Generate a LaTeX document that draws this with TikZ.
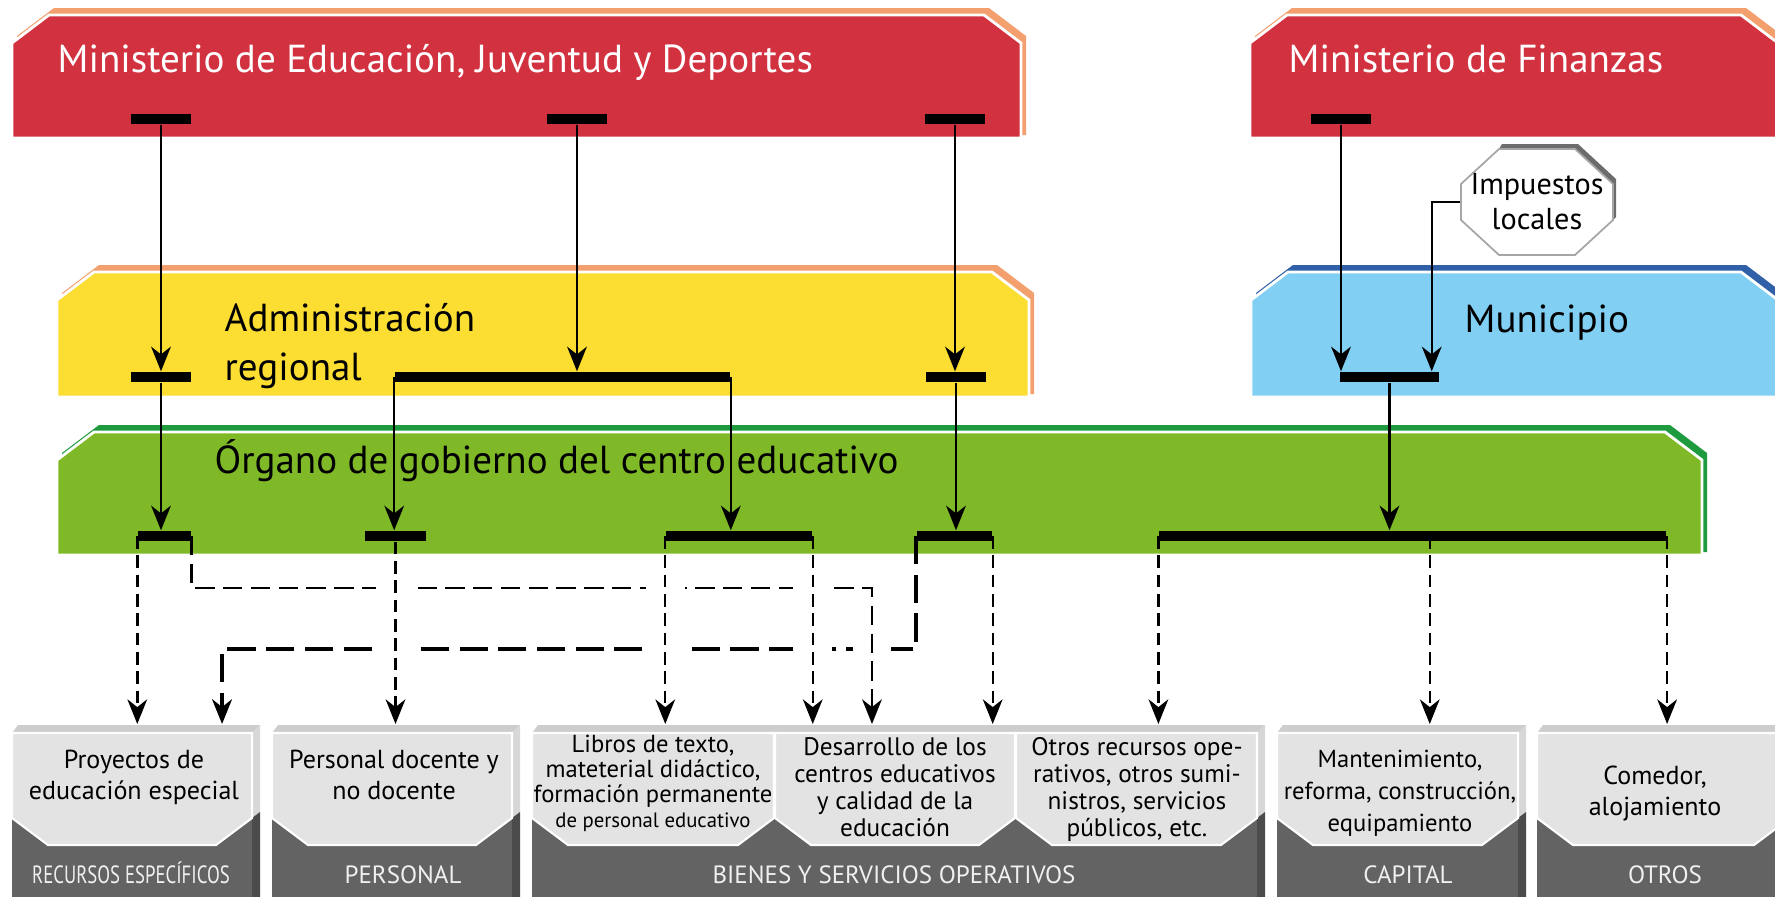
\documentclass[tikz,border=0pt]{standalone}
\usepackage{fontspec}
\setmainfont{PT Sans}
\usepackage{graphicx}
\usepackage{tikz}
\definecolor{rojo}{RGB}{210,49,64}
\definecolor{naranja}{RGB}{243,160,110}
\definecolor{amarillo}{RGB}{252,221,50}
\definecolor{celeste}{RGB}{130,207,244}
\definecolor{azul}{RGB}{48,96,168}
\definecolor{verde}{RGB}{127,185,39}
\definecolor{verdeosc}{RGB}{30,155,62}
\definecolor{grisclaro}{RGB}{227,227,227}
\definecolor{grisosc}{RGB}{99,99,99}
\definecolor{grisbisel}{RGB}{205,205,205}
\definecolor{grislado}{RGB}{75,75,75}
\usetikzlibrary{arrows.meta}

\begin{document}
\begin{tikzpicture}[x=0.01cm,y=-0.01cm,
  barra/.style={fill=black,inner sep=0pt,minimum height=0.1cm},
  titulo/.style={font=\fontsize{11.1}{13.7}\selectfont,inner sep=0pt,align=left},
  cuerpo/.style={font=\fontsize{7.4}{9}\selectfont,align=center,inner xsep=0pt,anchor=north},
  panel/.style={font=\fontsize{7.2}{7.7}\selectfont,align=center,inner xsep=0pt,anchor=north,inner ysep=0.13cm},
  etiqueta/.style={font=\fontsize{7.1}{8}\selectfont,text=white!94!black,inner sep=0pt,anchor=base},
  flecha/.style={line width=0.7pt,-{Stealth[length=7pt,width=5.6pt,inset=2.2pt]}},
  discont/.style={flecha,dash pattern=on 3.6pt off 1.9pt},
  largo/.style={flecha,line width=1.2pt,dash pattern=on 8pt off 3pt},
  puente/.style={preaction={draw=white,solid,-,line width=11pt,shorten <=0.22cm}}]
\useasboundingbox (0,0) rectangle (1775,897);
\clip (0,0) rectangle (1775,897);

\foreach \xl/\yt/\xr/\yb/\col/\som in {12/15/1021/138/rojo/naranja,1250/15/1778/138/rojo/naranja,57/272/1029/397/amarillo/naranja,1251/272/1778/397/celeste/azul,57/432/1702/555/verde/verdeosc}{
  \fill[\som] (\xl+5,\yb-3) -- (\xl+5,\yt+21) -- (\xl+42,\yt-7) -- (\xr-32,\yt-7) -- (\xr+5,\yt+21) -- (\xr+5,\yb-3) -- cycle;
  \filldraw[fill=\col,draw=white,line width=0.8pt] (\xl,\yb) -- (\xl,\yt+28) -- (\xl+37,\yt) -- (\xr-37,\yt) -- (\xr,\yt+28) -- (\xr,\yb) -- cycle;
}

\foreach \xl/\xr in {12/252,272/512,532/1257,1277/1518,1537/1790}{
  \fill[grisbisel] (\xl,733) -- (\xl+6,725) -- (\xr+8,725) -- (\xr,733) -- cycle;
  \fill[grisbisel!80!white] (\xr,733) -- (\xr+8,725) -- (\xr+8,812) -- (\xr,818) -- cycle;
  \fill[grislado] (\xr,818) -- (\xr+8,812) -- (\xr+8,897) -- (\xr,897) -- cycle;
  \fill[grisosc] (\xl,733) rectangle (\xr,897);
}
\foreach \xl/\xr in {12/252,272/512,532/774,775/1015,1016/1257,1277/1518,1537/1790}
  \filldraw[fill=grisclaro,draw=white,line width=0.6pt] (\xl,733) -- (\xr,733) -- (\xr,818) -- (\xr-36,845) -- (\xl+36,845) -- (\xl,818) -- cycle;

\fill[gray!85!black] (1502,144) -- (1578,144) -- (1616,179) -- (1616,217) -- (1613,220) -- (1613,184) -- (1575,149) -- (1499,149) -- cycle;
\filldraw[fill=white,draw=gray!70,line width=0.5pt] (1499,149) -- (1575,149) -- (1613,184) -- (1613,220) -- (1575,255) -- (1499,255) -- (1461,220) -- (1461,184) -- cycle;

\node[titulo,text=white,anchor=base west] (tedu) at (57,73) {Ministerio de Educación, Juventud y Deportes};
\node[titulo,text=white,anchor=base west] (tfin) at (1288,73) {Ministerio de Finanzas};
\node[titulo,anchor=base west] (tadm) at (224,380) {Administración\\regional};
\node[titulo,anchor=base west] (tmun) at (1464,332) {Municipio};
\node[titulo,anchor=base west] (torg) at (214,473) {Órgano de gobierno del centro educativo};
\node[align=center,font=\fontsize{8.6}{9.9}\selectfont,minimum width=1.52cm,minimum height=1.06cm,inner sep=0pt] (imp) at (1537,202) {Impuestos\\locales};

\node[barra,minimum width=0.6cm] (be1) at (161,119) {};
\node[barra,minimum width=0.6cm] (be2) at (577,119) {};
\node[barra,minimum width=0.6cm] (be3) at (955,119) {};
\node[barra,minimum width=0.6cm] (bf1) at (1341,119) {};
\node[barra,minimum width=0.6cm] (ba1) at (161,377) {};
\node[barra,minimum width=3.35cm] (ba2) at (562.5,377) {};
\node[barra,minimum width=0.6cm] (ba3) at (956,377) {};
\node[barra,minimum width=0.99cm] (bm1) at (1389.5,377) {};
\node[barra,minimum width=0.53cm] (bg1) at (164.5,536) {};
\node[barra,minimum width=0.6cm] (bg2) at (395.5,536) {};
\node[barra,minimum width=1.46cm] (bg3) at (739,536) {};
\node[barra,minimum width=0.75cm] (bg4) at (954.5,536) {};
\node[barra,minimum width=5.07cm] (bg5) at (1412.75,536) {};

\node[cuerpo,inner ysep=0.25cm] (proy) at (134,724) {Proyectos de\\educación especial};
\node[cuerpo,inner ysep=0.25cm] (pers) at (394,724) {Personal docente y\\no docente};
\node[panel,font=\fontsize{7.0}{7.1}\selectfont,inner ysep=0.1cm] (libr) at (653,724) {Libros de texto,\\mateterial didáctico,\\formación permanente\\{\fontsize{5.9}{6}\selectfont de personal educativo}};
\node[panel] (desa) at (895,724) {Desarrollo de los\\centros educativos\\y calidad de la\\educación};
\node[panel] (otro) at (1137,724) {Otros recursos ope-\\rativos, otros sumi-\\nistros, servicios\\públicos, etc.};
\node[cuerpo,font=\fontsize{7.0}{9.2}\selectfont,inner ysep=0.25cm] (capi) at (1400,724) {Mantenimiento,\\reforma, construcción,\\equipamiento};
\node[cuerpo,inner ysep=0.41cm] (come) at (1655,724) {Comedor,\\alojamiento};

\node[etiqueta] (lrec) at (131,883) {\scalebox{0.75}[1]{RECURSOS ESPECÍFICOS}};
\node[etiqueta] (lper) at (403,883) {PERSONAL};
\node[etiqueta] (lbie) at (894,883) {BIENES Y SERVICIOS OPERATIVOS};
\node[etiqueta] (lcap) at (1408,883) {CAPITAL};
\node[etiqueta] (lotr) at (1665,883) {OTROS};

\draw[flecha] (be1) -- (be1 |- ba1.north);
\draw[flecha] (be2) -- (be2 |- ba2.north);
\draw[flecha] (be3) -- (be3 |- ba3.north);
\draw[flecha] (bf1) -- (bf1 |- bm1.north);
\draw[flecha] (imp.west) -| ([xshift=-0.08cm]bm1.north east);
\draw[flecha] (ba1) -- (ba1 |- bg1.north);
\draw[flecha] (ba2.west) -- (ba2.west |- bg2.north);
\draw[flecha] (ba2.east) -- (ba2.east |- bg3.north);
\draw[flecha] (ba3) -- (ba3 |- bg4.north);
\draw[flecha] (bm1) -- (bm1 |- bg5.north);

\draw[largo] (bg4.west) -- ++(0,113) -| ([xshift=0.88cm]proy.north);
\draw[discont,dash pattern=on 5.5pt off 2.4pt,puente] (bg1.east) -- ++(0,52) -| ([xshift=-0.23cm]desa.north);
\draw[discont] (bg1.west) -- (bg1.west |- proy.north);
\draw[discont,puente] (bg2) -- (bg2 |- pers.north);
\draw[discont,puente] (bg3.west) -- (bg3.west |- libr.north);
\draw[discont,puente] (bg3.east) -- (bg3.east |- desa.north);
\draw[discont] (bg4.east) -- (bg4.east |- desa.north);
\draw[discont] (bg5.west) -- (bg5.west |- otro.north);
\draw[discont] ([xshift=0.17cm]bg5.center) -- ([xshift=0.17cm]bg5.center |- capi.north);
\draw[discont] (bg5.east) -- (bg5.east |- come.north);
\end{tikzpicture}
\end{document}
